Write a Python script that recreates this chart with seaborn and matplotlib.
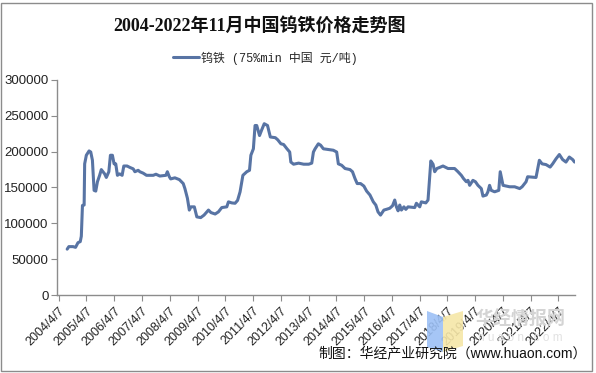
# -*- coding: utf-8 -*-
# Tungsten-iron price trend 2004-2022 (line chart)

import pandas as pd
import matplotlib
matplotlib.use("Agg")
import matplotlib.pyplot as plt
from matplotlib.patches import Rectangle, Polygon
import seaborn as sns

# Section 1: data
dates = [
    "2004-07-27", "2004-08-18", "2004-10-12", "2004-11-14", "2004-12-16",
    "2005-01-15", "2005-01-29", "2005-02-13", "2005-03-07", "2005-03-14",
    "2005-04-05", "2005-05-11", "2005-06-02", "2005-06-24", "2005-07-16",
    "2005-08-07", "2005-08-29", "2005-09-27", "2005-10-19", "2005-11-10",
    "2005-12-02", "2005-12-24", "2006-01-26", "2006-02-16", "2006-03-14",
    "2006-04-05", "2006-04-27", "2006-05-19", "2006-06-17", "2006-07-20",
    "2006-08-11", "2006-09-23", "2006-10-30", "2006-12-13", "2007-01-04",
    "2007-02-16", "2007-03-10", "2007-04-23", "2007-06-06", "2007-09-02",
    "2007-10-08", "2007-11-28", "2008-02-16", "2008-03-06", "2008-04-01",
    "2008-04-19", "2008-06-13", "2008-08-11", "2008-10-01", "2008-10-23",
    "2008-11-25", "2008-12-20", "2009-01-11", "2009-02-24", "2009-03-29",
    "2009-05-19", "2009-07-02", "2009-08-29", "2009-10-01", "2009-11-25",
    "2010-01-07", "2010-02-20", "2010-04-27", "2010-05-19", "2010-07-02",
    "2010-08-14", "2010-09-16", "2010-10-19", "2010-11-25", "2011-01-15",
    "2011-02-20", "2011-03-10", "2011-04-12", "2011-05-04", "2011-05-26",
    "2011-07-02", "2011-07-31", "2011-09-02", "2011-10-15", "2011-11-21",
    "2012-01-26", "2012-02-27", "2012-04-08", "2012-05-14", "2012-06-27",
    "2012-08-02", "2012-08-17", "2012-09-22", "2012-11-27", "2013-02-02",
    "2013-04-09", "2013-05-19", "2013-06-10", "2013-07-02", "2013-08-14",
    "2013-09-13", "2013-10-19", "2013-12-24", "2014-02-27", "2014-04-12",
    "2014-05-04", "2014-06-17", "2014-07-31", "2014-10-04", "2014-11-06",
    "2014-12-09", "2015-01-07", "2015-02-20", "2015-04-05", "2015-05-11",
    "2015-06-24", "2015-08-07", "2015-09-09", "2015-10-08", "2015-11-10",
    "2015-12-24", "2016-01-26", "2016-03-10", "2016-04-16", "2016-05-15",
    "2016-06-06", "2016-06-28", "2016-07-20", "2016-08-11", "2016-09-13",
    "2016-10-08", "2016-11-06", "2017-02-02", "2017-02-24", "2017-04-09",
    "2017-04-30", "2017-06-28", "2017-07-27", "2017-09-02", "2017-10-01",
    "2017-10-23", "2017-11-21", "2017-12-27", "2018-02-09", "2018-04-16",
    "2018-07-12", "2018-08-25", "2018-10-08", "2018-11-06", "2018-12-13",
    "2019-01-04", "2019-01-26", "2019-03-10", "2019-04-12", "2019-05-15",
    "2019-06-28", "2019-07-20", "2019-09-02", "2019-09-23", "2019-10-15",
    "2019-11-06", "2019-12-20", "2020-02-13", "2020-03-03", "2020-04-09",
    "2020-05-22", "2020-07-05", "2020-09-09", "2020-11-14", "2020-12-16",
    "2021-02-06", "2021-02-27", "2021-06-17", "2021-07-31", "2021-09-05",
    "2021-10-26", "2021-12-20", "2022-01-22", "2022-03-07", "2022-04-20",
    "2022-06-02", "2022-07-16", "2022-08-29", "2022-10-12", "2022-11-06",
]
prices = [
    64000, 67500, 67500, 66500, 73000,
    74500, 82000, 125000, 125500, 183000,
    195000, 201000, 199500, 188000, 146000,
    145000, 158000, 167000, 175000, 172000,
    169000, 164000, 172000, 195000, 195000,
    183000, 183000, 167000, 169000, 167000,
    180000, 180000, 178000, 176000, 172000,
    174000, 172000, 170000, 167000, 167000,
    168500, 166000, 167000, 172000, 165000,
    162000, 163500, 161000, 155500, 148500,
    135000, 118500, 123000, 123000, 109000,
    108000, 111500, 118500, 115000, 113000,
    116000, 122000, 123000, 130000, 128500,
    128000, 132000, 144000, 167000, 172000,
    174000, 195000, 204000, 236500, 236500,
    222500, 230500, 239000, 236500, 220500,
    219500, 216500, 211000, 210000, 204000,
    199500, 185500, 182500, 184000, 182500,
    182500, 184000, 199500, 204000, 211000,
    209000, 204000, 203000, 202000, 199500,
    183000, 181000, 176500, 175000, 172000,
    162500, 155500, 155500, 152000, 145000,
    139500, 130000, 125500, 116000, 111500,
    118500, 119500, 121000, 124500, 132500,
    123000, 117500, 125500, 118500, 123000,
    119500, 123000, 122000, 128000, 123000,
    130000, 128500, 132500, 187000, 182500,
    172000, 176500, 178000, 180000, 176500,
    176500, 172000, 167000, 162500, 158000,
    160000, 153000, 160000, 158000, 153000,
    148500, 138000, 139500, 144000, 153000,
    146000, 144000, 146000, 172000, 153000,
    152000, 151000, 151000, 148500, 151000,
    158000, 165000, 164000, 188000, 183000,
    182000, 178500, 183000, 190000, 196000,
    189000, 185500, 192500, 189000, 185500,
]
tick_labels = [f"{y}/4/7" for y in range(2004, 2023)]
y_ticks = [0, 50000, 100000, 150000, 200000, 250000, 300000]

series_name = "钨铁 (75%min 中国 元/吨)"
title = "2004-2022年11月中国钨铁价格走势图"
source = "制图：华经产业研究院（www.huaon.com）"

# Section 2: style
sns.set_style("white")
plt.rcParams["font.family"] = ["Liberation Sans", "Noto Sans CJK SC", "DejaVu Sans"]

df = pd.DataFrame({"date": pd.to_datetime(dates), "price": prices})

W, H = 596, 373
fig = plt.figure(figsize=(W / 100, H / 100), dpi=100)
ax = fig.add_axes([57 / W, 1 - 295 / H, 518 / W, 215 / H])

# Section 3: plot
sns.lineplot(data=df, x="date", y="price", ax=ax, color="#5874A4",
             linewidth=2.2, label=series_name)

ax.set_ylim(0, 300000)
ax.set_yticks(y_ticks)
ax.set_yticklabels([str(v) for v in y_ticks])
tick_dates = pd.to_datetime(tick_labels, format="%Y/%m/%d")
ax.set_xticks(tick_dates)
ax.set_xticklabels(tick_labels, rotation=45, ha="right", rotation_mode="anchor")
ax.set_xlim(pd.Timestamp("2004-03-15"), pd.Timestamp("2022-11-12"))
ax.set_xlabel("")
ax.set_ylabel("")

for side in ["top", "right"]:
    ax.spines[side].set_visible(False)
for side in ["left", "bottom"]:
    ax.spines[side].set_color("#8c8c8c")
    ax.spines[side].set_linewidth(1.0)
ax.tick_params(axis="y", length=4, color="#8c8c8c", labelsize=9.5, pad=2,
               labelcolor="#222222", left=True)
ax.tick_params(axis="x", length=4, color="#8c8c8c", labelsize=9, pad=3,
               labelcolor="#222222", bottom=True)

ax.legend(loc="center", bbox_to_anchor=(265 / W, 1 - 58 / H),
          bbox_transform=fig.transFigure, frameon=False, handlelength=2.2,
          handletextpad=0.15, borderpad=0,
          prop={"family": ["Liberation Mono", "Noto Sans CJK SC"], "size": 8.6})

fig.text(260 / W, 1 - 26 / H, title, ha="center", va="center", fontsize=13,
         fontweight="bold", family=["Liberation Serif", "Noto Sans CJK SC"],
         color="#111111")

# watermark
fig.patches.append(Polygon([(427 / W, 1 - 311 / H), (443 / W, 1 - 317 / H),
                            (443 / W, 1 - 352 / H), (427 / W, 1 - 347 / H)],
                           closed=True, transform=fig.transFigure,
                           facecolor="#9cc0f5", edgecolor="none", alpha=0.9))
fig.patches.append(Polygon([(443 / W, 1 - 317 / H), (463 / W, 1 - 311 / H),
                            (463 / W, 1 - 346 / H), (443 / W, 1 - 352 / H)],
                           closed=True, transform=fig.transFigure,
                           facecolor="#f6e7a8", edgecolor="none", alpha=0.9))
fig.text(520 / W, 1 - 320 / H, "华经情报网", ha="center", va="center",
         fontsize=13, fontweight="bold", color="#d4d4d4", zorder=0)
fig.text(520 / W, 1 - 338 / H, "h u a o n . c o m", ha="center", va="center",
         fontsize=8.5, color="#e2e2e2", zorder=0)

fig.text(318 / W, 1 - 353 / H, source, ha="left", va="center", fontsize=10,
         color="#111111")

# chart border
fig.patches.append(Rectangle((0.5 / W, 2.5 / H), 591 / W, 368 / H,
                             transform=fig.transFigure, fill=False,
                             edgecolor="#8c8c8c", linewidth=1.0))

fig.savefig("out.png", dpi=100)
